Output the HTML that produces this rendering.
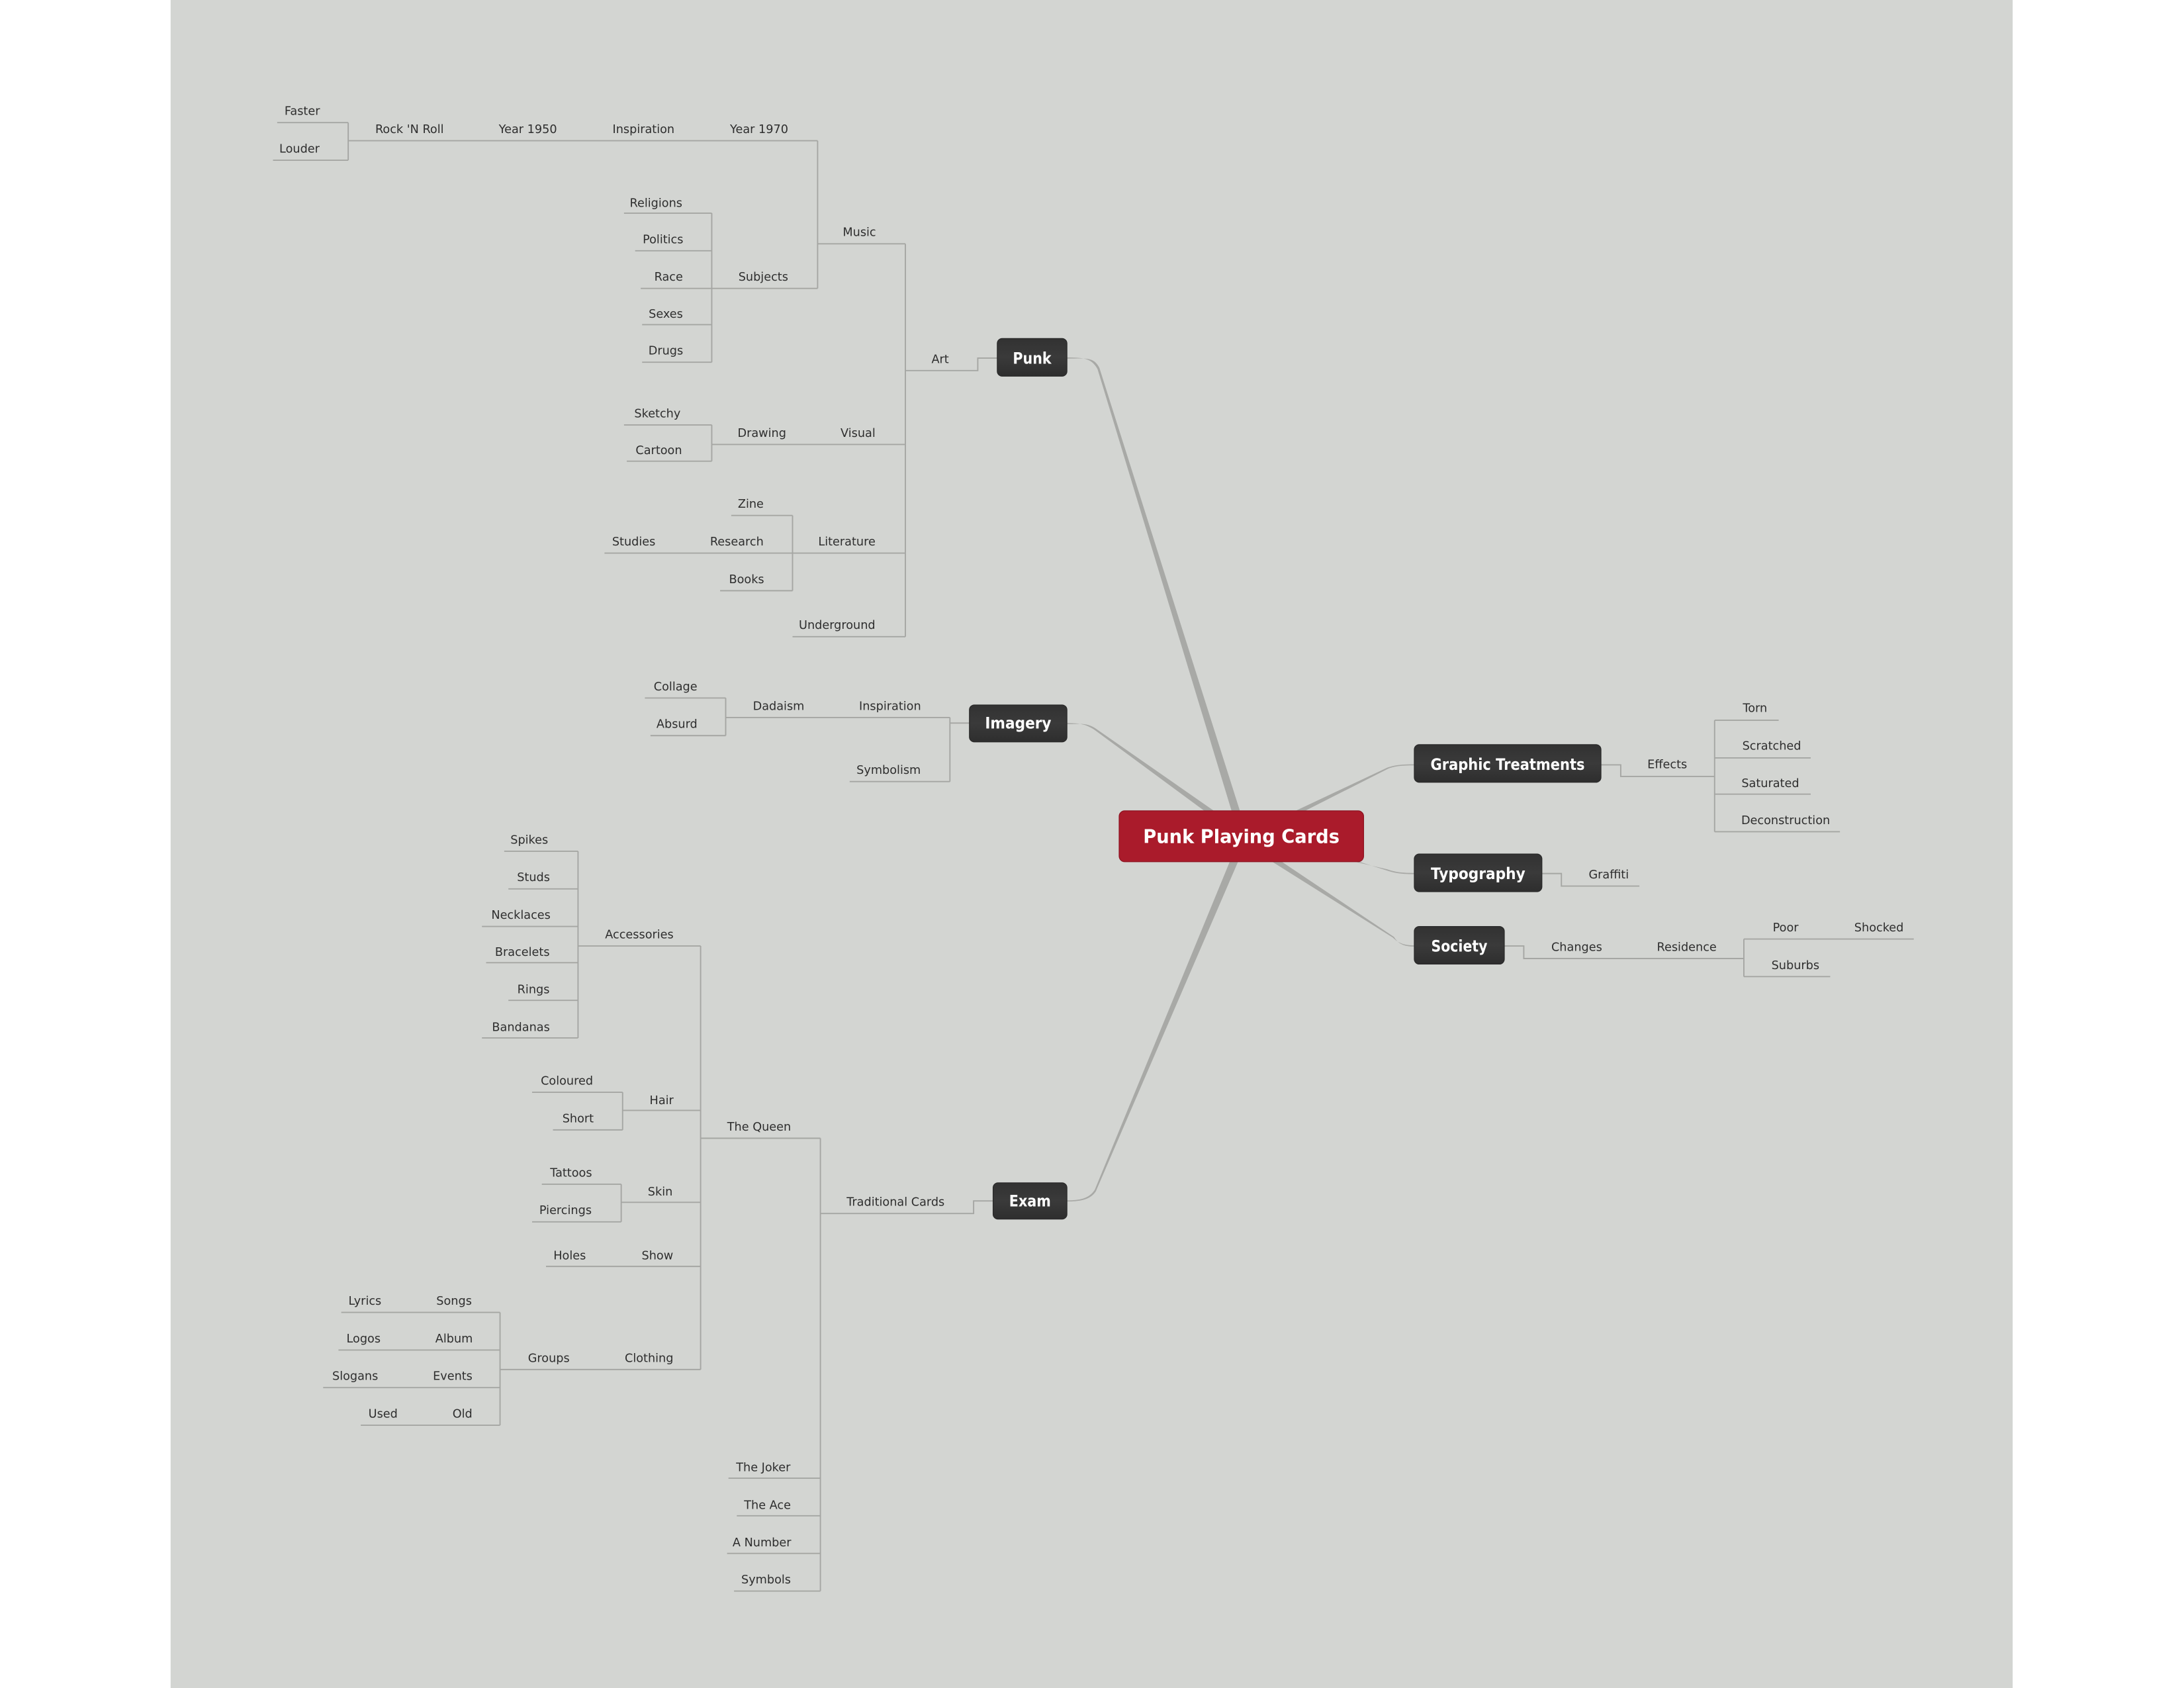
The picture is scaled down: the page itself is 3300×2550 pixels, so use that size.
<!DOCTYPE html>
<html><head><meta charset="utf-8"><style>
html,body{margin:0;padding:0;background:#fff;}
svg{display:block;}
text{font-family:"DejaVu Sans","Liberation Sans",sans-serif;}
.l{font-size:8.4px;fill:#2e2e2e;text-anchor:middle;}
.n{font-size:11.2px;font-weight:bold;fill:#fff;text-anchor:middle;}
</style></head><body>
<svg width="3300" height="2550" viewBox="0 0 1568 1211.6" preserveAspectRatio="none" xmlns="http://www.w3.org/2000/svg">
<defs>
<linearGradient id="g" x1="0" y1="0" x2="0" y2="1">
<stop offset="0" stop-color="#323232"/><stop offset="0.5" stop-color="#3a3a3a"/><stop offset="1" stop-color="#2e2e2e"/>
</linearGradient>
</defs>
<rect x="0" y="0" width="1568" height="1211.6" fill="#fff"/>
<rect x="122.5" y="0" width="1322.5" height="1211.6" fill="#d3d5d2"/>

<!-- main tapered connectors -->
<g fill="#a8a9a6">
<path d="M766,256.6 C780,256.6 784,258 788,265 L884.5,583 L890.5,583 L789.3,264 C785,256 780,257.4 766,257.4 Z"/>
<path d="M766,519 C776,519 780,520 786,524 L866,583 L873,583 L786.8,523 C780,518.6 776,519.8 766,519.8 Z"/>
<path d="M766,861.6 C776,861.6 782,860 786,854 L883.5,617 L889.5,617 L786.8,855 C783,861 776,862.4 766,862.4 Z"/>
<path d="M1015.4,548.6 C1006,548.6 1002,549 996,551 L928,583 L935,583 L996.5,551.8 C1002,549.8 1006,549.4 1015.4,549.4 Z"/>
<path d="M1015.4,626.6 C1006,626.6 1002,626 996,624 L962,616 L968,616 L996,624.9 C1002,626.8 1006,627.4 1015.4,627.4 Z"/>
<path d="M1015.4,678.6 C1008,678.6 1004,677 1000,673 L911,617 L918,617 L1000.8,672.5 C1004,677.6 1008,679.4 1015.4,679.4 Z"/>
</g>

<!-- branch lines -->
<g fill="none" stroke="#a5a6a3" stroke-width="0.9">
<path d="M716,257 H702 V266 H650 M650,175 V457 M650,175 H587 M587,101 V207 M587,101 H250 M250,88 V115 M250,88 H199 M250,115 H196
M587,207 H511 M511,153 V260 M511,153 H448 M511,180 H456 M511,207 H460 M511,233 H461 M511,260 H461
M650,319 H511 M511,305 V331 M511,305 H448 M511,331 H450
M650,397 H434 M569,370 V424 M569,370 H525 M569,424 H517
M650,457 H569"/>
<path d="M696,519 H682 M682,515 V561 M682,515 H521 M682,561 H610 M521,501 V528 M521,501 H463 M521,528 H467"/>
<path d="M713,862 H699 V871 H589 M589,817 V1142 M589,817 H503 M589,1061 H523 M589,1088 H529 M589,1115 H522 M589,1142 H527
M503,679 V983 M503,679 H415 M415,611 V745 M415,611 H362 M415,638 H365 M415,665 H346 M415,691 H349 M415,718 H365 M415,745 H346
M503,797 H447 M447,784 V811 M447,784 H382 M447,811 H397
M503,863 H446 M446,850 V877 M446,850 H389 M446,877 H382
M503,909 H392
M503,983 H359 M359,942 V1023 M359,942 H245 M359,969 H243 M359,996 H232 M359,1023 H259"/>
<path d="M1149,549 H1163.6 V557.3 H1231 M1231,517 V597 M1231,517 H1277 M1231,544 H1300 M1231,570 H1300 M1231,597 H1321
M1107,627 H1121 V636 H1177
M1080,679 H1094 V688 H1252 M1252,674 V701 M1252,674 H1374 M1252,701 H1314"/>
</g>

<!-- nodes -->
<g stroke="#2a2a2a" stroke-width="0.6">
<rect x="716" y="243" width="50" height="27" rx="3.5" fill="url(#g)"/>
<rect x="696" y="506" width="70" height="26.5" rx="3.5" fill="url(#g)"/>
<rect x="713" y="849" width="53" height="26" rx="3.5" fill="url(#g)"/>
<rect x="1015.4" y="534.5" width="134" height="27" rx="3.5" fill="url(#g)"/>
<rect x="1015.4" y="613" width="91.6" height="27" rx="3.5" fill="url(#g)"/>
<rect x="1015.4" y="665" width="64.6" height="27" rx="3.5" fill="url(#g)"/>
</g>
<rect x="803.5" y="582" width="175.5" height="36.5" rx="4" fill="#aa1b2b" stroke="#8e1422" stroke-width="0.6"/>

<text class="n" x="741" y="261" textLength="27.7" lengthAdjust="spacingAndGlyphs">Punk</text>
<text class="n" x="731" y="523" textLength="47.6" lengthAdjust="spacingAndGlyphs">Imagery</text>
<text class="n" x="739.5" y="866" textLength="30" lengthAdjust="spacingAndGlyphs">Exam</text>
<text class="n" x="1082.4" y="552.5" textLength="110.7" lengthAdjust="spacingAndGlyphs">Graphic Treatments</text>
<text class="n" x="1061.2" y="631" textLength="67.8" lengthAdjust="spacingAndGlyphs">Typography</text>
<text class="n" x="1047.7" y="683" textLength="40.4" lengthAdjust="spacingAndGlyphs">Society</text>
<text class="n" x="891.2" y="605" style="font-size:13.5px" textLength="141" lengthAdjust="spacingAndGlyphs">Punk Playing Cards</text>

<!-- labels -->
<g class="l">
<text class="l" x="217" y="82.5">Faster</text>
<text class="l" x="215" y="109.5">Louder</text>
<text class="l" x="294" y="95.5">Rock 'N Roll</text>
<text class="l" x="379" y="95.5">Year 1950</text>
<text class="l" x="462" y="95.5">Inspiration</text>
<text class="l" x="545" y="95.5">Year 1970</text>
<text class="l" x="617" y="169.5">Music</text>
<text class="l" x="471" y="148.5">Religions</text>
<text class="l" x="476" y="174.5">Politics</text>
<text class="l" x="480" y="201.5">Race</text>
<text class="l" x="478" y="228">Sexes</text>
<text class="l" x="478" y="254.5">Drugs</text>
<text class="l" x="548" y="201.5">Subjects</text>
<text class="l" x="675" y="260.5">Art</text>
<text class="l" x="472" y="299.5">Sketchy</text>
<text class="l" x="473" y="326">Cartoon</text>
<text class="l" x="547" y="313.5">Drawing</text>
<text class="l" x="616" y="313.5">Visual</text>
<text class="l" x="539" y="364.5">Zine</text>
<text class="l" x="455" y="391.5">Studies</text>
<text class="l" x="529" y="391.5">Research</text>
<text class="l" x="608" y="391.5">Literature</text>
<text class="l" x="536" y="418.5">Books</text>
<text class="l" x="601" y="451.5">Underground</text>

<text class="l" x="485" y="495.5">Collage</text>
<text class="l" x="486" y="522.5">Absurd</text>
<text class="l" x="559" y="509.5">Dadaism</text>
<text class="l" x="639" y="509.5">Inspiration</text>
<text class="l" x="638" y="555.5">Symbolism</text>

<text class="l" x="380" y="605.5">Spikes</text>
<text class="l" x="383" y="632.5">Studs</text>
<text class="l" x="374" y="659.5">Necklaces</text>
<text class="l" x="375" y="686">Bracelets</text>
<text class="l" x="383" y="713">Rings</text>
<text class="l" x="374" y="740">Bandanas</text>
<text class="l" x="459" y="673.5">Accessories</text>
<text class="l" x="407" y="778.5">Coloured</text>
<text class="l" x="415" y="805.5">Short</text>
<text class="l" x="475" y="792.5">Hair</text>
<text class="l" x="545" y="811.5">The Queen</text>
<text class="l" x="410" y="844.5">Tattoos</text>
<text class="l" x="406" y="871.5">Piercings</text>
<text class="l" x="474" y="858">Skin</text>
<text class="l" x="643" y="865.5">Traditional Cards</text>
<text class="l" x="409" y="904">Holes</text>
<text class="l" x="472" y="904">Show</text>
<text class="l" x="262" y="936.5">Lyrics</text>
<text class="l" x="326" y="936.5">Songs</text>
<text class="l" x="261" y="963.5">Logos</text>
<text class="l" x="326" y="963.5">Album</text>
<text class="l" x="255" y="990.5">Slogans</text>
<text class="l" x="325" y="990.5">Events</text>
<text class="l" x="275" y="1017.5">Used</text>
<text class="l" x="332" y="1017.5">Old</text>
<text class="l" x="394" y="977.5">Groups</text>
<text class="l" x="466" y="977.5">Clothing</text>
<text class="l" x="548" y="1056">The Joker</text>
<text class="l" x="551" y="1083">The Ace</text>
<text class="l" x="547" y="1110">A Number</text>
<text class="l" x="550" y="1136.5">Symbols</text>

<text class="l" x="1197" y="551.5">Effects</text>
<text class="l" x="1260" y="511">Torn</text>
<text class="l" x="1272" y="538">Scratched</text>
<text class="l" x="1271" y="565">Saturated</text>
<text class="l" x="1282" y="591.5">Deconstruction</text>
<text class="l" x="1155" y="630.5">Graffiti</text>
<text class="l" x="1132" y="682.5">Changes</text>
<text class="l" x="1211" y="682.5">Residence</text>
<text class="l" x="1282" y="668.5">Poor</text>
<text class="l" x="1349" y="668.5">Shocked</text>
<text class="l" x="1289" y="695.5">Suburbs</text>
</g>
</svg>
</body></html>
